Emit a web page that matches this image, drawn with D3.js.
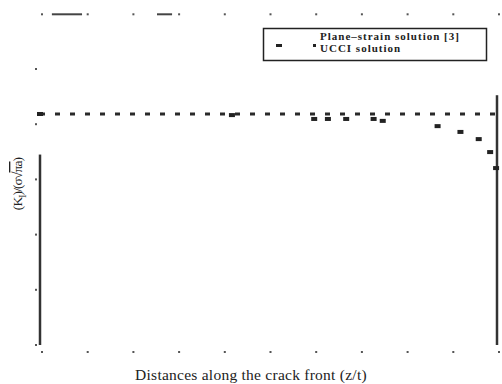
<!DOCTYPE html>
<html>
<head>
<meta charset="utf-8">
<script src="https://cdn.jsdelivr.net/npm/d3@7"></script>
<style>
  body { margin: 0; background: #fff; }
  text { font-family: "Liberation Serif", "DejaVu Serif", serif; fill: #222; }
</style>
</head>
<body>
<script>
// values (K_I normalised, z/t along the crack front)
const planeStrainZ = [0, 1];
const planeStrainK = [0.837, 0.837];

const ucciZ = [0.0, 0.42, 0.60, 0.63, 0.67, 0.73, 0.75, 0.87, 0.92, 0.96, 0.985, 0.998];
const ucciK = [0.837, 0.833, 0.819, 0.819, 0.819, 0.819, 0.812, 0.793, 0.772, 0.746, 0.699, 0.641];

const xTicks = [0, 0.1, 0.2, 0.3, 0.4, 0.5, 0.6, 0.7, 0.8, 0.9, 1.0];
const yTicks = [0, 0.2, 0.4, 0.6, 0.8, 1.0];

// pieces of the frame that survived in the picture
const leftAxisK = [0, 0.69];
const rightAxisK = [0, 0.905];
const topFrameZ = [[0.026, 0.092], [0.256, 0.289]];

const legendLabels = ["Plane\u2013strain solution [3]", "UCCI solution"];

var width = 502, height = 384;

var svg = d3
  .select("body")
  .append("svg")
  .attr("width", width)
  .attr("height", height)
  .style("background", "#fff");

var x = d3.scaleLinear().domain([0, 1]).range([40, 497]);
var y = d3.scaleLinear().domain([0, 1.2]).range([345, 13.8]);

// left and right axis lines
svg
  .append("line")
  .attr("x1", x(0))
  .attr("x2", x(0))
  .attr("y1", y(leftAxisK[0]))
  .attr("y2", y(leftAxisK[1]))
  .attr("stroke", "#333")
  .attr("stroke-width", 2.5);

svg
  .append("line")
  .attr("x1", x(1))
  .attr("x2", x(1))
  .attr("y1", y(rightAxisK[0]))
  .attr("y2", y(rightAxisK[1]))
  .attr("stroke", "#333")
  .attr("stroke-width", 2.5);

// top frame fragments
svg
  .selectAll("topframe")
  .data(topFrameZ)
  .enter()
  .append("line")
  .attr("x1", (d) => x(d[0]))
  .attr("x2", (d) => x(d[1]))
  .attr("y1", y(1.2) + 0.5)
  .attr("y2", y(1.2) + 0.5)
  .attr("stroke", "#444")
  .attr("stroke-width", 2);

// tick remnants: small dots
svg
  .selectAll("xtick_top")
  .data(xTicks)
  .enter()
  .append("rect")
  .attr("x", (d) => x(d) + 1)
  .attr("y", y(1.2) - 0.5)
  .attr("width", 2)
  .attr("height", 2)
  .attr("fill", "#555");

svg
  .selectAll("xtick_bottom")
  .data(xTicks)
  .enter()
  .append("rect")
  .attr("x", (d) => x(d) + 1)
  .attr("y", y(0) + 6)
  .attr("width", 2)
  .attr("height", 2)
  .attr("fill", "#555");

svg
  .selectAll("ytick")
  .data(yTicks)
  .enter()
  .append("rect")
  .attr("x", x(0) - 5)
  .attr("y", (d) => y(d) - 1)
  .attr("width", 2)
  .attr("height", 2)
  .attr("fill", "#555");

// plane-strain solution, dashed line
var line = d3
  .line()
  .x((d) => x(d[0]))
  .y((d) => y(d[1]));

svg
  .append("path")
  .attr("d", line(d3.zip(planeStrainZ, planeStrainK)))
  .attr("fill", "none")
  .attr("stroke", "#2a2a2a")
  .attr("stroke-width", 3)
  .attr("stroke-dasharray", "5,10");

// UCCI solution, square markers
svg
  .selectAll("ucci")
  .data(d3.zip(ucciZ, ucciK))
  .enter()
  .append("rect")
  .attr("x", (d) => x(d[0]) - 3)
  .attr("y", (d) => y(d[1]) - 2)
  .attr("width", 6)
  .attr("height", 4)
  .attr("fill", "#222");

// legend
var legend = svg.append("g");
legend
  .append("rect")
  .attr("x", 263.5)
  .attr("y", 28.5)
  .attr("width", 223)
  .attr("height", 32)
  .attr("fill", "#fff")
  .attr("stroke", "#222")
  .attr("stroke-width", 1.5);

legend
  .append("rect")
  .attr("x", 276)
  .attr("y", 44)
  .attr("width", 6)
  .attr("height", 3)
  .attr("fill", "#222");
legend
  .append("rect")
  .attr("x", 313)
  .attr("y", 44)
  .attr("width", 3)
  .attr("height", 3)
  .attr("fill", "#222");

legend
  .selectAll("legendtext")
  .data(legendLabels)
  .enter()
  .append("text")
  .attr("x", 320)
  .attr("y", (d, i) => 39.5 + i * 12.5)
  .style("font-weight", "bold")
  .style("font-size", "11px")
  .style("letter-spacing", "1px")
  .text((d) => d);

// axis titles
svg
  .append("text")
  .attr("x", 251)
  .attr("y", 380)
  .style("text-anchor", "middle")
  .style("font-size", "15.5px")
  .style("letter-spacing", "0.25px")
  .text("Distances along the crack front (z/t)");

var yl = svg
  .append("text")
  .attr("transform", "translate(22,184) rotate(-90)")
  .style("text-anchor", "middle")
  .style("font-size", "13.5px")
  .style("letter-spacing", "-0.9px");
yl.append("tspan").text("(K");
yl.append("tspan").attr("dy", 4).style("font-size", "9.5px").text("I");
yl.append("tspan").attr("dy", -4).text(")/(\u03c3\u221a");
yl.append("tspan").style("text-decoration", "overline").text("\u03c0a");
yl.append("tspan").text(")");
</script>
</body>
</html>
